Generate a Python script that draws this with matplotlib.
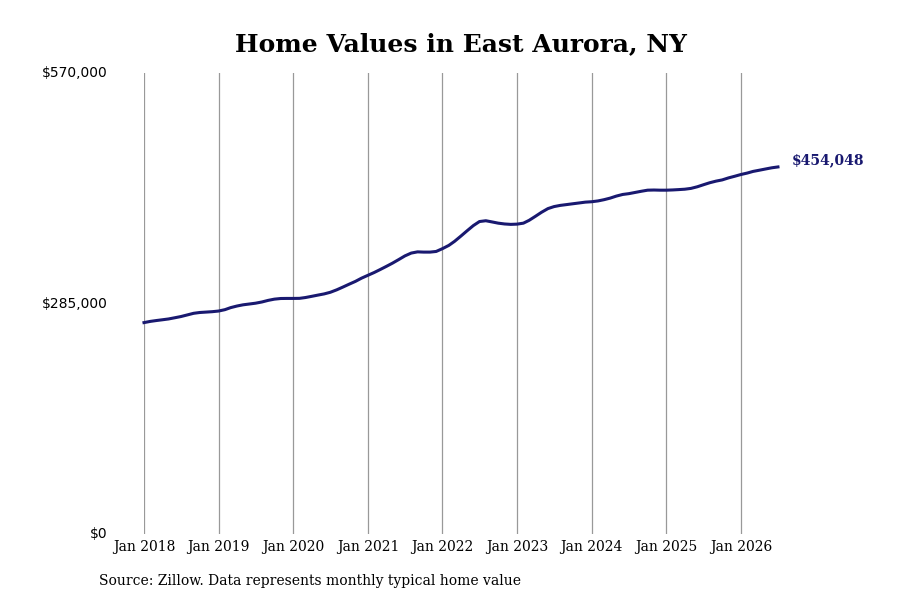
import matplotlib
matplotlib.use("Agg")
import matplotlib.pyplot as plt
import pandas as pd

# Monthly typical home value (thousands of $), Jan 2018 - Jul 2026
values_2018 = [261.5, 263, 264, 265, 266, 267.5, 269, 271, 273, 274, 274.5, 275]
values_2019 = [275.8, 277.5, 280, 282, 283.5, 284.5, 285.5, 287, 289, 290.5, 291.3, 291.4]
values_2020 = [291.4, 291.5, 292.5, 294, 295.5, 297, 299, 302, 305.5, 309, 312.5, 316.5]
values_2021 = [320, 323.5, 327, 331, 335, 339.5, 344, 347.5, 349, 348.7, 348.7, 349.5]
values_2022 = [353, 357, 362, 368.5, 375, 381.5, 386.5, 387.5, 386, 384.5, 383.5, 383]
values_2023 = [383.3, 384.5, 388, 393, 398, 402.5, 405, 406.5, 407.5, 408.5, 409.5, 410.5]
values_2024 = [411, 412, 413.5, 415.5, 418, 420, 421, 422.5, 424, 425.3, 425.5, 425.3]
values_2025 = [425.3, 425.6, 426, 426.5, 427.5, 429.5, 432, 434.5, 436.5, 438, 440.5, 442.5]
values_2026 = [444.7, 446.5, 448.5, 450, 451.5, 453, 454.048]

values = [v * 1000 for v in (values_2018 + values_2019 + values_2020 + values_2021 +
                             values_2022 + values_2023 + values_2024 + values_2025 + values_2026)]
dates = pd.date_range("2018-01-01", periods=len(values), freq="MS")

y_ticks = [0, 285000, 570000]
y_labels = ["$0", "$285,000", "$570,000"]
x_tick_years = list(range(2018, 2027))
last_label = "$454,048"

title = "Home Values in East Aurora, NY"
source = "Source: Zillow. Data represents monthly typical home value"

line_color = "#191970"

fig = plt.figure(figsize=(9, 6), dpi=100)
ax = fig.add_axes([0.16, 0.11, 0.7044, 0.768])

ax.plot(dates, values, color=line_color, lw=2.2, clip_on=False, zorder=3)

ax.set_xlim(dates[0], dates[-1])
ax.set_ylim(0, 570000)

xt = [pd.Timestamp(f"{y}-01-01") for y in x_tick_years]
ax.set_xticks(xt)
ax.set_xticklabels([f"Jan {y}" for y in x_tick_years], fontfamily="DejaVu Serif", fontsize=10)
ax.set_yticks(y_ticks)
ax.set_yticklabels(y_labels, fontfamily="DejaVu Sans", fontsize=10)

ax.grid(axis="x", color="#999999", lw=0.9)
ax.grid(axis="y", visible=False)
for s in ax.spines.values():
    s.set_visible(False)
ax.tick_params(axis="both", length=0)
ax.tick_params(axis="x", pad=4)
ax.tick_params(axis="y", pad=26)
for lbl in ax.get_yticklabels():
    lbl.set_verticalalignment("center")

ax.annotate(last_label, xy=(dates[-1], values[-1]), xytext=(10, 5),
            textcoords="offset points", va="center", ha="left",
            fontfamily="DejaVu Serif", fontweight="bold", fontsize=10,
            color=line_color, annotation_clip=False)

fig.text(0.512, 1 - 44 / 600, title, ha="center", va="center",
         fontfamily="DejaVu Serif", fontweight="bold", fontsize=18)
fig.text(99 / 900, 1 - 581 / 600, source, ha="left", va="center",
         fontfamily="DejaVu Serif", fontsize=10)

fig.savefig("out.png", dpi=100, facecolor="white")
